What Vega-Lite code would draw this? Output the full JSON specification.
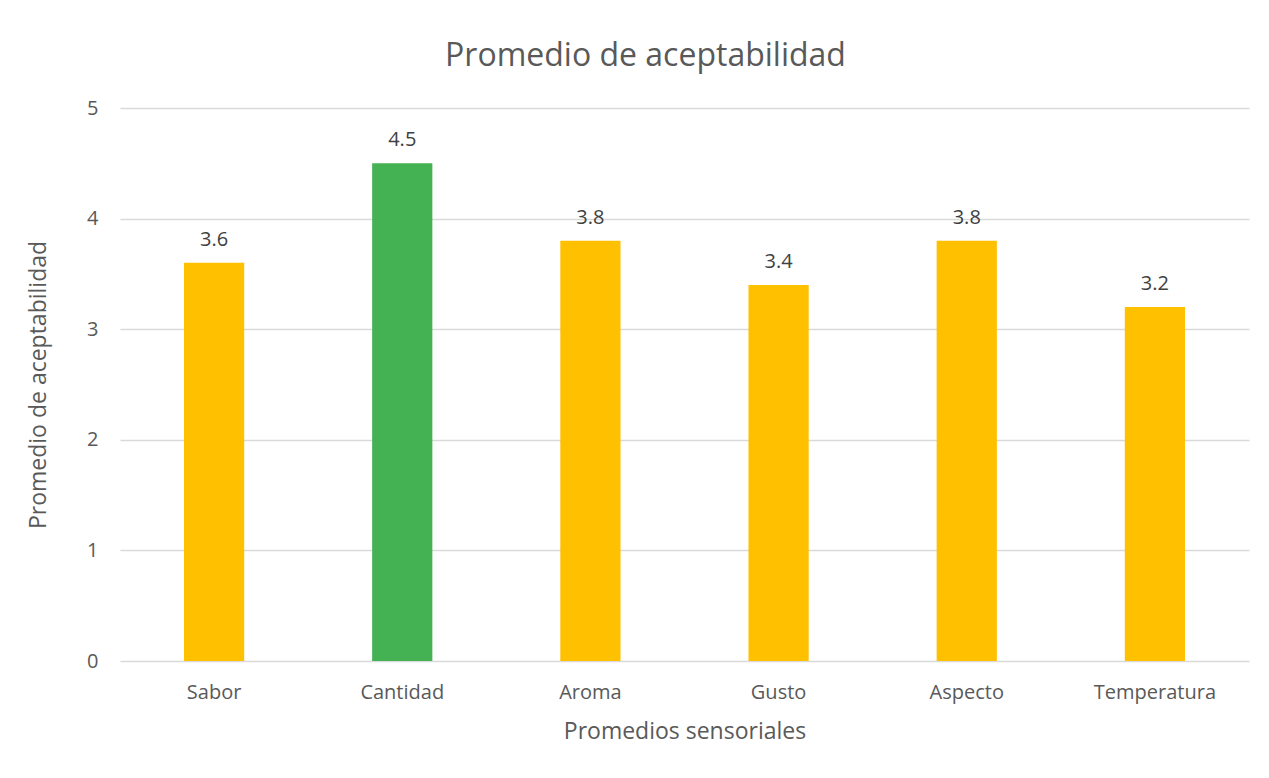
{
  "$schema": "https://vega.github.io/schema/vega-lite/v6.json",
  "autosize": {"type": "none"},
  "width": 1129,
  "height": 553,
  "padding": {"left": 120, "top": 108, "right": 20, "bottom": 117},
  "background": "white",
  "title": {
    "text": "Promedio de aceptabilidad",
    "fontSize": 32,
    "font": "Open Sans",
    "fontWeight": "normal",
    "color": "#595959",
    "anchor": "middle",
    "dx": -39,
    "offset": 25
  },
  "data": {
    "values": [
      {"atributo": "Sabor", "promedio": 3.6, "grupo": "a"},
      {"atributo": "Cantidad", "promedio": 4.5, "grupo": "b"},
      {"atributo": "Aroma", "promedio": 3.8, "grupo": "a"},
      {"atributo": "Gusto", "promedio": 3.4, "grupo": "a"},
      {"atributo": "Aspecto", "promedio": 3.8, "grupo": "a"},
      {"atributo": "Temperatura", "promedio": 3.2, "grupo": "a"}
    ]
  },
  "config": {
    "view": {"stroke": null},
    "font": "Open Sans",
    "axis": {
      "labelColor": "#595959",
      "titleColor": "#595959",
      "labelFontSize": 20,
      "titleFontSize": 23,
      "titleFontWeight": "normal",
      "labelFont": "Open Sans",
      "titleFont": "Open Sans"
    }
  },
  "encoding": {
    "x": {
      "field": "atributo",
      "type": "nominal",
      "sort": null,
      "scale": {"paddingInner": 0.68, "paddingOuter": 0.34},
      "axis": {
        "title": "Promedios sensoriales",
        "labelAngle": 0,
        "ticks": false,
        "domain": false,
        "labelPadding": 21,
        "titlePadding": 18
      }
    },
    "y": {
      "field": "promedio",
      "type": "quantitative",
      "scale": {"domain": [0, 5], "nice": false},
      "axis": {
        "title": "Promedio de aceptabilidad",
        "values": [0, 1, 2, 3, 4, 5],
        "ticks": false,
        "domain": false,
        "labelPadding": 22,
        "titlePadding": 36,
        "gridColor": "#d9d9d9",
        "gridWidth": 1.5
      }
    }
  },
  "layer": [
    {
      "mark": {"type": "bar"},
      "encoding": {
        "color": {
          "field": "grupo",
          "type": "nominal",
          "scale": {"domain": ["a", "b"], "range": ["#FFC000", "#44B152"]},
          "legend": null
        }
      }
    },
    {
      "mark": {"type": "text", "baseline": "bottom", "dy": -13, "fontSize": 20, "color": "#404040"},
      "encoding": {
        "text": {"field": "promedio", "type": "quantitative", "format": ".1f"}
      }
    }
  ]
}
